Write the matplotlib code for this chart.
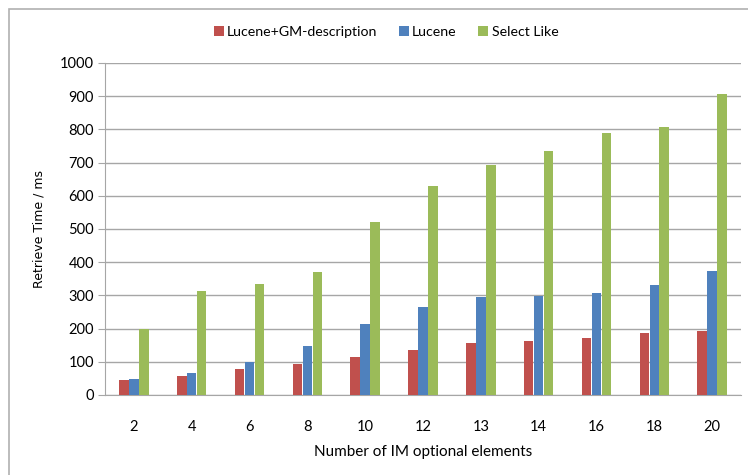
import numpy as np
import matplotlib.pyplot as plt
from matplotlib.patches import Rectangle

categories = ['2', '4', '6', '8', '10', '12', '13', '14', '16', '18', '20']
lucene_gm = [45, 58, 78, 93, 115, 135, 157, 163, 172, 187, 192]
lucene = [48, 65, 98, 148, 215, 265, 295, 297, 307, 332, 375]
select_like = [200, 313, 335, 370, 522, 630, 693, 735, 788, 807, 907]

plt.rcParams['font.family'] = ['Lato', 'DejaVu Sans']

fig = plt.figure(figsize=(7.48, 4.75), dpi=100)
ax = fig.add_axes([105/748, 1 - 395/475, 636/748, 332/475])

x = np.arange(len(categories))
w = 0.165
ax.bar(x - 0.172, lucene_gm, w, color='#C0504D', label='Lucene+GM-description', zorder=3)
ax.bar(x, lucene, w, color='#4F81BD', label='Lucene', zorder=3)
ax.bar(x + 0.172, select_like, w, color='#9BBB59', label='Select Like', zorder=3)

ax.set_xlim(-0.5, 10.5)
ax.set_ylim(0, 1000)
ax.set_yticks(range(0, 1001, 100))
ax.set_xticks(x)
ax.set_xticklabels(categories)
ax.yaxis.grid(True, color='#a6a6a6', linewidth=1.0, zorder=0)
ax.tick_params(axis='x', length=0, pad=18, labelsize=10.5)
ax.tick_params(axis='y', length=5, color='#a6a6a6', pad=3, labelsize=10.5)
for s in ['top', 'right']:
    ax.spines[s].set_visible(False)
ax.spines['left'].set_color('#a6a6a6')
ax.spines['bottom'].set_color('#a6a6a6')

ax.set_ylabel('Retrieve Time / ms', family='DejaVu Sans', fontsize=9, labelpad=10)
ax.set_xlabel('Number of IM optional elements', fontsize=11, labelpad=8)

fig.legend(loc='center', bbox_to_anchor=(386/748, 1 - 32/475), ncol=3, frameon=False,
           fontsize=10.2, handlelength=0.7, handleheight=0.7, handletextpad=0.25, columnspacing=1.5)

fig.patches.append(Rectangle((8.5/748, -0.1), 1.1, 1 - 8.5/475 + 0.1, transform=fig.transFigure,
                             fill=False, edgecolor='#b0b0b0', linewidth=1.2))

fig.savefig('out.png', dpi=100)
